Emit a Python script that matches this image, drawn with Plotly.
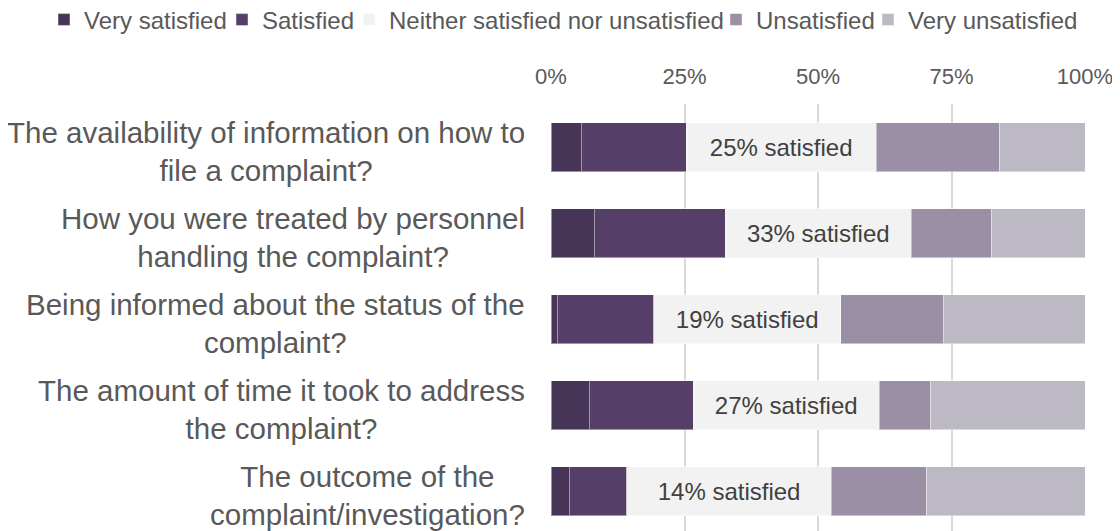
import plotly.graph_objects as go

categories = [
    "The availability of information on how to<br>file a complaint?",
    "How you were treated by personnel<br>handling the complaint?",
    "Being informed about the status of the<br>complaint?",
    "The amount of time it took to address<br>the complaint?",
    "The outcome of the<br>complaint/investigation?",
]
series_names = ["Very satisfied", "Satisfied", "Neither satisfied nor unsatisfied",
                "Unsatisfied", "Very unsatisfied"]
very_satisfied = [5.7, 8.1, 1.2, 7.2, 3.4]
satisfied = [19.6, 24.5, 18.0, 19.4, 10.8]
neither = [35.6, 34.9, 35.1, 34.9, 38.3]
unsatisfied = [23.1, 15.0, 19.2, 9.5, 17.9]
very_unsatisfied = [16.0, 17.5, 26.5, 29.0, 29.6]
tick_values = [0, 25, 50, 75, 100]
tick_labels = ["0%", "25%", "50%", "75%", "100%"]
colors = ["#463556", "#553F69", "#F2F2F2", "#9A8FA5", "#BDB9C4"]

series_values = [very_satisfied, satisfied, neither, unsatisfied, very_unsatisfied]
sat_labels = [f"{round(a + b)}% satisfied" for a, b in zip(very_satisfied, satisfied)]

FONT = "Liberation Sans, Arial, sans-serif"
ML, MR, MT = 543, 43, 96
W, H = 1120, 531
plot_w = W - ML - MR
plot_h = H - MT

# legend entry left edges (figure px), one legend per series
legend_left_px = [36, 214, 341, 708, 860]
legend_y = 1 + (MT - 12) / plot_h

fig = go.Figure()
layout_legends = {}
for i, (name, vals, col) in enumerate(zip(series_names, series_values, colors)):
    kw = {}
    if name.startswith("Neither"):
        kw = dict(text=sat_labels, textposition="inside", insidetextanchor="middle",
                  textangle=0, insidetextfont=dict(size=24, color="#404040", family=FONT))
    lname = "legend" if i == 0 else f"legend{i + 1}"
    fig.add_trace(go.Bar(
        y=categories, x=vals, name=name, orientation="h", legend=lname,
        marker=dict(color=col, line=dict(color="rgba(255,255,255,0.45)", width=1)),
        hoverinfo="skip", **kw))
    layout_legends[lname] = dict(
        orientation="h", xref="paper", yref="paper",
        x=(legend_left_px[i] - ML) / plot_w, xanchor="left",
        y=legend_y, yanchor="middle",
        font=dict(size=24, color="#595959", family=FONT),
        itemwidth=30, bgcolor="rgba(0,0,0,0)")

for cat in categories:
    fig.add_annotation(x=0, y=cat, xref="paper", yref="y", text=cat,
                       xanchor="right", yanchor="middle", align="center",
                       xshift=-24, yshift=-4, showarrow=False,
                       font=dict(size=29.5, color="#595959", family=FONT))

fig.update_layout(
    width=W, height=H,
    margin=dict(l=ML, r=MR, t=MT, b=0, autoexpand=False),
    barmode="stack", bargap=0.43,
    paper_bgcolor="white", plot_bgcolor="white",
    font=dict(family=FONT, color="#595959"),
    xaxis=dict(side="top", range=[0, 100], tickvals=tick_values, ticktext=tick_labels,
               showgrid=True, gridcolor="#D9D9D9", gridwidth=2,
               zeroline=False, showline=False, ticks="outside", ticklen=10,
               tickcolor="rgba(0,0,0,0)",
               tickfont=dict(size=22, color="#595959", family=FONT)),
    yaxis=dict(type="category", categoryorder="array", categoryarray=categories,
               range=[-0.5 + plot_h / 86.1, -0.5], showticklabels=False, showgrid=False,
               zeroline=False, showline=False, ticks=""),
    showlegend=True,
    **layout_legends,
)
fig.write_html("out.html")
